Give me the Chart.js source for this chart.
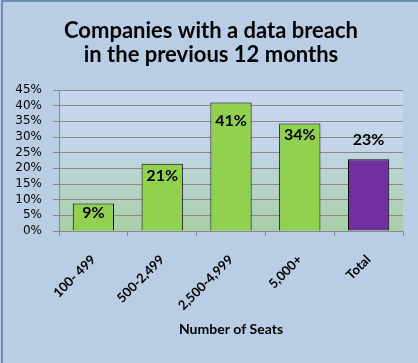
<!DOCTYPE html>
<html>
<head>
<meta charset="utf-8">
<script src="https://cdn.jsdelivr.net/npm/chart.js@4.4.0/dist/chart.umd.min.js"></script>
<style>
html,body{margin:0;padding:0;background:#b9cde5;}
#wrap{position:relative;width:418px;height:363px;}
canvas{display:block;}
</style>
</head>
<body>
<div id="wrap"><canvas id="c" width="418" height="363"></canvas></div>
<script>
const categories = ['100- 499', '500-2,499', '2,500-4,999', '5,000+', 'Total'];
const values = [8.8, 21.5, 41.0, 34.3, 22.9];
const valueLabels = ['9%', '21%', '41%', '34%', '23%'];
const titleLines = ['Companies with a data breach', 'in the previous 12 months'];
const axisTitle = 'Number of Seats';

const barColors = ['#92d050', '#92d050', '#92d050', '#92d050', '#7030a0'];
const labelShift = [9, 12, 18, 11, -19];

const bgPlugin = {
  id: 'bg',
  beforeDraw(chart) {
    const ctx = chart.ctx;
    ctx.save();
    ctx.fillStyle = '#b9cde5';
    ctx.fillRect(0, 0, chart.width, chart.height);
    ctx.strokeStyle = '#5a77a5';
    ctx.lineWidth = 1.5;
    ctx.beginPath();
    ctx.moveTo(2, chart.height);
    ctx.lineTo(2, 1);
    ctx.lineTo(chart.width, 1);
    ctx.stroke();
    const a = chart.chartArea;
    const g = ctx.createLinearGradient(0, a.top, 0, a.bottom);
    g.addColorStop(0, '#c7d6ef');
    g.addColorStop(0.4, '#c3d5e8');
    g.addColorStop(1, '#a8cfa5');
    ctx.fillStyle = g;
    ctx.fillRect(a.left, a.top, a.right - a.left, a.bottom - a.top);
    ctx.fillStyle = '#000';
    ctx.font = 'bold 22px Lato';
    ctx.textAlign = 'center';
    ctx.textBaseline = 'middle';
    ctx.fillText(titleLines[0], 211, 31);
    ctx.fillText(titleLines[1], 211, 55);
    ctx.restore();
  }
};

const labelPlugin = {
  id: 'vlabels',
  afterDatasetsDraw(chart) {
    const ctx = chart.ctx;
    const meta = chart.getDatasetMeta(0);
    ctx.save();
    ctx.fillStyle = '#000';
    ctx.font = 'bold 16px Lato';
    ctx.textAlign = 'center';
    ctx.textBaseline = 'middle';
    meta.data.forEach((bar, i) => {
      ctx.fillText(valueLabels[i], bar.x, bar.y + labelShift[i]);
    });
    ctx.restore();
  }
};

new Chart(document.getElementById('c'), {
  type: 'bar',
  data: {
    labels: categories,
    datasets: [{
      data: values,
      backgroundColor: barColors,
      borderColor: '#000',
      borderWidth: 1,
      categoryPercentage: 1,
      barPercentage: 0.6
    }]
  },
  options: {
    responsive: false,
    animation: false,
    devicePixelRatio: 1,
    layout: { padding: { top: 90, right: 15, left: 0, bottom: 0 } },
    plugins: { legend: { display: false }, tooltip: { enabled: false }, title: { display: false } },
    scales: {
      y: {
        min: 0, max: 45,
        ticks: { stepSize: 5, autoSkip: false, callback: v => v + '%', color: '#000', font: { family: 'DejaVu Sans', size: 12 }, padding: 11 },
        grid: { color: '#8a8a8a', lineWidth: 1, tickLength: 6, drawTicks: true },
        border: { color: '#8a8a8a' },
        afterFit(s) { s.width = 59; }
      },
      x: {
        ticks: { color: '#000', autoSkip: false, font: { family: 'Lato', size: 13, weight: 'bold' }, minRotation: 45, maxRotation: 45, padding: 16 },
        grid: { display: true, offset: true, drawOnChartArea: false, color: '#8a8a8a', tickLength: 5 },
        border: { color: '#8a8a8a' },
        title: { display: true, text: axisTitle, color: '#000', font: { family: 'Lato', size: 14, weight: 'bold' }, padding: { top: 0, bottom: 25 } },
        afterFit(s) { s.height = 132; }
      }
    }
  },
  plugins: [bgPlugin, labelPlugin]
});
</script>
</body>
</html>
